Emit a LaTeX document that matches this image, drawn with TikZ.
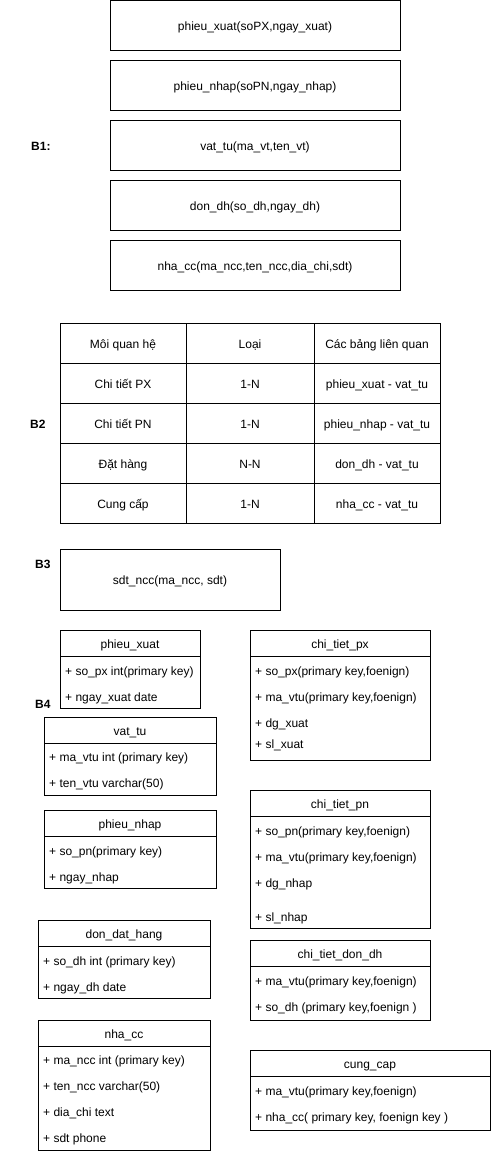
\documentclass[tikz,border=0pt]{standalone}
\usepackage{fontspec}
\setmainfont{Liberation Sans}
\usetikzlibrary{positioning,calc}

\begin{document}
\begin{tikzpicture}[x=1pt,y=1pt,font=\fontsize{12}{14}\selectfont]
  \tikzstyle{rel} = [rectangle,draw,line width=1pt,minimum width=290pt,minimum height=50pt,inner sep=0pt,outer sep=0pt,text height=10.5pt,text depth=0.5pt]
  \tikzstyle{cell} = [rectangle,draw,line width=1pt,minimum height=40pt,inner sep=0pt,outer sep=0pt,anchor=north west,text height=10.5pt,text depth=0.5pt]
  \tikzstyle{tag} = [font=\fontsize{12}{14}\selectfont\bfseries,inner sep=0pt,anchor=west,text height=10.5pt,text depth=0.5pt]
  \tikzstyle{hdr} = [rectangle,draw,line width=1pt,minimum height=26pt,inner sep=0pt,outer sep=0pt,anchor=north west,text height=10.5pt,text depth=0.5pt]
  \tikzstyle{body} = [rectangle,draw,line width=1pt,inner sep=0pt,outer sep=0pt,anchor=north west]
  \tikzstyle{fld} = [inner sep=0pt,anchor=west,text height=10.5pt,text depth=0.5pt]

  \useasboundingbox (0,0) rectangle (491,-1154);

  % B1
  \node[tag] (b1) at (31,-145) {B1:};
  \node[rel] (px) at (255,-25) {phieu\_xuat(soPX,ngay\_xuat)};
  \node[rel, below=10pt of px] (pn) {phieu\_nhap(soPN,ngay\_nhap)};
  \node[rel, below=10pt of pn] (vt) {vat\_tu(ma\_vt,ten\_vt)};
  \node[rel, below=10pt of vt] (dh) {don\_dh(so\_dh,ngay\_dh)};
  \node[rel, below=10pt of dh] (ncc) {nha\_cc(ma\_ncc,ten\_ncc,dia\_chi,sdt)};

  % B2
  \node[tag] (b2) at (30,-423) {B2};
  \foreach \i/\a/\b/\c in {0/Môi quan hệ/Loại/Các bảng liên quan,
                           1/Chi tiết PX/1-N/phieu\_xuat - vat\_tu,
                           2/Chi tiết PN/1-N/phieu\_nhap - vat\_tu,
                           3/Đặt hàng/N-N/don\_dh - vat\_tu,
                           4/Cung cấp/1-N/nha\_cc - vat\_tu} {
    \node[cell, minimum width=126pt] (r\i a) at (60,-323-40*\i) {\a};
    \node[cell, minimum width=128pt] (r\i b) at (r\i a.north east) {\b};
    \node[cell, minimum width=126pt] (r\i c) at (r\i b.north east) {\c};
  }

  % B3
  \node[tag] (b3) at (35,-563) {B3};
  \node[rel, minimum width=220pt, minimum height=61pt, anchor=north west] (sdt) at (60,-549) {sdt\_ncc(ma\_ncc, sdt)};

  % B4
  \node[tag] (b4) at (35,-703) {B4};

  \node[hdr, minimum width=140pt] (pxH) at (60,-630) {phieu\_xuat};
  \node[body, minimum width=140pt, minimum height=52pt] (pxB) at (pxH.south west) {};
  \node[fld] (pxF1) at ($(pxB.north west)+(5,-14)$) {+ so\_px int(primary key)};
  \node[fld] (pxF2) at ($(pxB.north west)+(5,-40)$) {+ ngay\_xuat date};

  \node[hdr, minimum width=172pt] (vtH) at (44,-717) {vat\_tu};
  \node[body, minimum width=172pt, minimum height=52pt] (vtB) at (vtH.south west) {};
  \node[fld] (vtF1) at ($(vtB.north west)+(5,-13)$) {+ ma\_vtu int (primary key)};
  \node[fld] (vtF2) at ($(vtB.north west)+(5,-39)$) {+ ten\_vtu varchar(50)};

  \node[hdr, minimum width=172pt] (pnH) at (44,-810) {phieu\_nhap};
  \node[body, minimum width=172pt, minimum height=52pt] (pnB) at (pnH.south west) {};
  \node[fld] (pnF1) at ($(pnB.north west)+(5,-14)$) {+ so\_pn(primary key)};
  \node[fld] (pnF2) at ($(pnB.north west)+(5,-40)$) {+ ngay\_nhap};

  \node[hdr, minimum width=172pt] (dhH) at (38,-920) {don\_dat\_hang};
  \node[body, minimum width=172pt, minimum height=52pt] (dhB) at (dhH.south west) {};
  \node[fld] (dhF1) at ($(dhB.north west)+(5,-14)$) {+ so\_dh int (primary key)};
  \node[fld] (dhF2) at ($(dhB.north west)+(5,-40)$) {+ ngay\_dh date};

  \node[hdr, minimum width=172pt] (nccH) at (38,-1020) {nha\_cc};
  \node[body, minimum width=172pt, minimum height=104pt] (nccB) at (nccH.south west) {};
  \node[fld] (nccF1) at ($(nccB.north west)+(5,-13)$) {+ ma\_ncc int (primary key)};
  \node[fld] (nccF2) at ($(nccB.north west)+(5,-39)$) {+ ten\_ncc varchar(50)};
  \node[fld] (nccF3) at ($(nccB.north west)+(5,-65)$) {+ dia\_chi text};
  \node[fld] (nccF4) at ($(nccB.north west)+(5,-91)$) {+ sdt phone};

  \node[hdr, minimum width=180pt] (ctpxH) at (250,-630) {chi\_tiet\_px};
  \node[body, minimum width=180pt, minimum height=104pt] (ctpxB) at (ctpxH.south west) {};
  \node[fld] (ctpxF1) at ($(ctpxB.north west)+(5,-14)$) {+ so\_px(primary key,foenign)};
  \node[fld] (ctpxF2) at ($(ctpxB.north west)+(5,-40)$) {+ ma\_vtu(primary key,foenign)};
  \node[fld] (ctpxF3) at ($(ctpxB.north west)+(5,-66)$) {+ dg\_xuat};
  \node[fld] (ctpxF4) at ($(ctpxB.north west)+(5,-87)$) {+ sl\_xuat};

  \node[hdr, minimum width=180pt] (ctpnH) at (250,-790) {chi\_tiet\_pn};
  \node[body, minimum width=180pt, minimum height=112pt] (ctpnB) at (ctpnH.south west) {};
  \node[fld] (ctpnF1) at ($(ctpnB.north west)+(5,-14)$) {+ so\_pn(primary key,foenign)};
  \node[fld] (ctpnF2) at ($(ctpnB.north west)+(5,-40)$) {+ ma\_vtu(primary key,foenign)};
  \node[fld] (ctpnF3) at ($(ctpnB.north west)+(5,-66)$) {+ dg\_nhap};
  \node[fld] (ctpnF4) at ($(ctpnB.north west)+(5,-100)$) {+ sl\_nhap};

  \node[hdr, minimum width=180pt] (ctdhH) at (250,-940) {chi\_tiet\_don\_dh};
  \node[body, minimum width=180pt, minimum height=54pt] (ctdhB) at (ctdhH.south west) {};
  \node[fld] (ctdhF1) at ($(ctdhB.north west)+(5,-14)$) {+ ma\_vtu(primary key,foenign)};
  \node[fld] (ctdhF2) at ($(ctdhB.north west)+(5,-40)$) {+ so\_dh (primary key,foenign )};

  \node[hdr, minimum width=240pt] (ccH) at (250,-1050) {cung\_cap};
  \node[body, minimum width=240pt, minimum height=54pt] (ccB) at (ccH.south west) {};
  \node[fld] (ccF1) at ($(ccB.north west)+(5,-14)$) {+ ma\_vtu(primary key,foenign)};
  \node[fld] (ccF2) at ($(ccB.north west)+(5,-40)$) {+ nha\_cc( primary key, foenign key )};
\end{tikzpicture}
\end{document}
